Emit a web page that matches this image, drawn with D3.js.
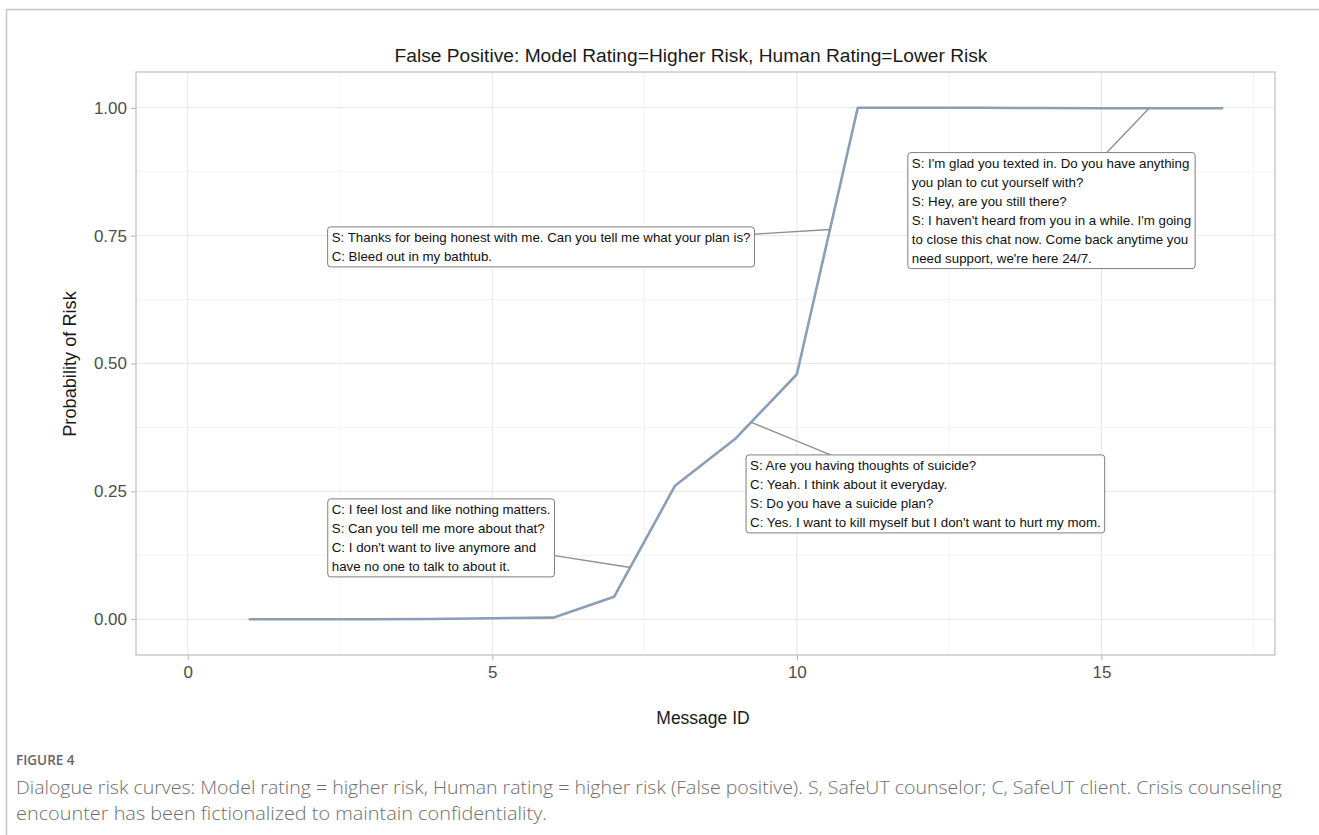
<!DOCTYPE html>
<html>
<head>
<meta charset="utf-8">
<script src="https://cdn.jsdelivr.net/npm/d3@7"></script>
<style>
  html, body { margin: 0; padding: 0; background: #ffffff; }
  svg { display: block; }
</style>
</head>
<body>
<svg id="chart" width="1319" height="835"></svg>
<script>
// ---------------- data ----------------
const messageIds = [1, 2, 3, 4, 5, 6, 7, 8, 9, 10, 11, 12, 13, 14, 15, 16, 17];
const riskProb   = [0.0, 0.0, 0.0, 0.0005, 0.002, 0.003, 0.044, 0.261, 0.354, 0.479, 1.0, 1.0, 1.0, 0.9995, 0.999, 0.999, 0.999];

const xTicks = [0, 5, 10, 15];
const xMinorTicks = [2.5, 7.5, 12.5, 17.5];
const yTicks = [0, 0.25, 0.5, 0.75, 1.0];
const yMinorTicks = [0.125, 0.375, 0.625, 0.875];

const titleText = "False Positive: Model Rating=Higher Risk, Human Rating=Lower Risk";
const xTitle = "Message ID";
const yTitle = "Probability of Risk";
const figureLabel = "FIGURE 4";
const captionLines = [
  "Dialogue risk curves: Model rating = higher risk, Human rating = higher risk (False positive). S, SafeUT counselor; C, SafeUT client. Crisis counseling",
  "encounter has been fictionalized to maintain confidentiality."
];

// annotation texts, label centres and target points, in data units
const annoLines = [
  ["S: Thanks for being honest with me. Can you tell me what your plan is?",
   "C: Bleed out in my bathtub."],
  ["S: I'm glad you texted in. Do you have anything",
   "you plan to cut yourself with?",
   "S: Hey, are you still there?",
   "S: I haven't heard from you in a while. I'm going",
   "to close this chat now. Come back anytime you",
   "need support, we're here 24/7."],
  ["S: Are you having thoughts of suicide?",
   "C: Yeah. I think about it everyday.",
   "S: Do you have a suicide plan?",
   "C: Yes. I want to kill myself but I don't want to hurt my mom."],
  ["C: I feel lost and like nothing matters.",
   "S: Can you tell me more about that?",
   "C: I don't want to live anymore and",
   "have no one to talk to about it."]
];
const annoLabelX = [5.80, 14.18, 12.11, 4.16];
const annoLabelY = [0.728, 0.799, 0.245, 0.159];
const annoPointX = [10.55, 15.79, 9.25, 7.27];
const annoPointY = [0.762, 1.0, 0.385, 0.101];

// ---------------- layout ----------------
const svg = d3.select("#chart");
const panel = { left: 136, right: 1275, top: 72, bottom: 655 };

const x = d3.scaleLinear().domain([-0.85, 17.85]).range([panel.left, panel.right]);
const y = d3.scaleLinear().domain([-0.07, 1.07]).range([panel.bottom, panel.top]);

// page frame
svg.append("line").attr("x1", 6.5).attr("x2", 1319).attr("y1", 9.5).attr("y2", 9.5)
  .attr("stroke", "#c6c6c6").attr("stroke-width", 1.5);
svg.append("line").attr("x1", 6.5).attr("x2", 6.5).attr("y1", 9.5).attr("y2", 835)
  .attr("stroke", "#c6c6c6").attr("stroke-width", 1.5);

const g = svg.append("g");

// grid
g.append("g").selectAll("line").data(xMinorTicks).join("line")
  .attr("x1", d => x(d)).attr("x2", d => x(d)).attr("y1", panel.top).attr("y2", panel.bottom)
  .attr("stroke", "#f0f0f0").attr("stroke-width", 0.8);
g.append("g").selectAll("line").data(yMinorTicks).join("line")
  .attr("y1", d => y(d)).attr("y2", d => y(d)).attr("x1", panel.left).attr("x2", panel.right)
  .attr("stroke", "#f0f0f0").attr("stroke-width", 0.8);
g.append("g").selectAll("line").data(xTicks).join("line")
  .attr("x1", d => x(d)).attr("x2", d => x(d)).attr("y1", panel.top).attr("y2", panel.bottom)
  .attr("stroke", "#e6e6e6").attr("stroke-width", 1);
g.append("g").selectAll("line").data(yTicks).join("line")
  .attr("y1", d => y(d)).attr("y2", d => y(d)).attr("x1", panel.left).attr("x2", panel.right)
  .attr("stroke", "#e6e6e6").attr("stroke-width", 1);

// axes
const xAxis = d3.axisBottom(x).tickValues(xTicks).tickFormat(d3.format("d")).tickSize(5).tickPadding(6);
const yAxis = d3.axisLeft(y).tickValues(yTicks).tickFormat(d3.format(".2f")).tickSize(5).tickPadding(4);

const gx = g.append("g").attr("transform", `translate(0,${panel.bottom})`).call(xAxis);
const gy = g.append("g").attr("transform", `translate(${panel.left},0)`).call(yAxis);
[gx, gy].forEach(a => {
  a.select(".domain").remove();
  a.selectAll(".tick line").attr("stroke", "#b3b3b3");
  a.selectAll(".tick text").attr("fill", "#4d4d4d")
    .style("font-family", "'Liberation Sans', Arial, sans-serif").style("font-size", "17px");
});

// panel border
g.append("rect").attr("x", panel.left).attr("y", panel.top)
  .attr("width", panel.right - panel.left).attr("height", panel.bottom - panel.top)
  .attr("fill", "none").attr("stroke", "#bdbdbd").attr("stroke-width", 1.2);

// line
const pts = messageIds.map((m, i) => [m, riskProb[i]]);
g.append("path").datum(pts)
  .attr("fill", "none").attr("stroke", "#8a9fb6").attr("stroke-width", 2.6)
  .attr("stroke-linejoin", "round")
  .attr("d", d3.line().x(d => x(d[0])).y(d => y(d[1])));

// annotations
const lineH = 19, padX = 4, padY = 1, fontSize = 13.3;
const annoG = g.append("g");
annoLines.forEach((lines, i) => {
  const grp = annoG.append("g");
  const txt = grp.append("text")
    .style("font-family", "'Liberation Sans', Arial, sans-serif")
    .style("font-size", fontSize + "px").attr("fill", "#111");
  lines.forEach((l, k) => txt.append("tspan").attr("x", 0).attr("dy", k === 0 ? 0 : lineH).text(l));
  let w = 0;
  txt.selectAll("tspan").each(function () { w = Math.max(w, this.getComputedTextLength()); });
  const bw = w + 2 * padX, bh = lines.length * lineH + 2 * padY;
  const cx = x(annoLabelX[i]), cy = y(annoLabelY[i]);
  const bx = cx - bw / 2, by = cy - bh / 2;
  txt.attr("transform", `translate(${bx + padX},${by + padY + lineH / 2 + 4.5})`);
  const px = x(annoPointX[i]), py = y(annoPointY[i]);
  const dx = px - cx, dy = py - cy;
  const tx = dx !== 0 ? (bw / 2) / Math.abs(dx) : Infinity;
  const ty = dy !== 0 ? (bh / 2) / Math.abs(dy) : Infinity;
  const t = Math.min(tx, ty);
  grp.insert("line", "text")
    .attr("x1", cx + dx * t).attr("y1", cy + dy * t).attr("x2", px).attr("y2", py)
    .attr("stroke", "#8f8f8f").attr("stroke-width", 1.4);
  grp.insert("rect", "text")
    .attr("x", bx).attr("y", by).attr("width", bw).attr("height", bh)
    .attr("rx", 3).attr("ry", 3)
    .attr("fill", "#ffffff").attr("stroke", "#6f6f6f").attr("stroke-width", 0.9);
});

// titles
svg.append("text").attr("x", 691).attr("y", 62).attr("text-anchor", "middle")
  .style("font-family", "'Liberation Sans', Arial, sans-serif").style("font-size", "19.2px")
  .attr("fill", "#1a1a1a").text(titleText);
svg.append("text").attr("x", 703).attr("y", 724).attr("text-anchor", "middle")
  .style("font-family", "'Liberation Sans', Arial, sans-serif").style("font-size", "17.5px")
  .attr("fill", "#1a1a1a").text(xTitle);
svg.append("text").attr("transform", `translate(76,${364}) rotate(-90)`)
  .attr("text-anchor", "middle")
  .style("font-family", "'Liberation Sans', Arial, sans-serif").style("font-size", "18.2px")
  .attr("fill", "#1a1a1a").text(yTitle);

// caption
svg.append("text").attr("x", 16).attr("y", 765)
  .style("font-family", "'Open Sans', 'Noto Sans', sans-serif").style("font-size", "13.5px")
  .style("font-weight", 600).attr("fill", "#666666").text(figureLabel);
const capWidths = [1266, 531];
captionLines.forEach((l, i) => {
  svg.append("text").attr("x", 16).attr("y", 794 + i * 26)
    .style("font-family", "'Open Sans', 'Noto Sans', sans-serif").style("font-size", "18px")
    .style("font-weight", 300)
    .attr("textLength", capWidths[i]).attr("lengthAdjust", "spacingAndGlyphs")
    .attr("fill", "#6e6e6e").text(l);
});
</script>
</body>
</html>
